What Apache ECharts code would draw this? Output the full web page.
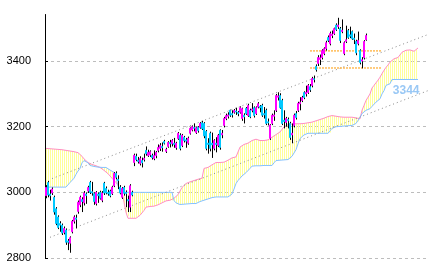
<!DOCTYPE html>
<html><head><meta charset="utf-8">
<script src="https://cdn.jsdelivr.net/npm/echarts@6/dist/echarts.min.js"></script>
<style>html,body{margin:0;padding:0;background:#fff}#c{width:433px;height:271px}</style>
</head><body><div id="c"></div>
<script>
const opens = [
2990,3030,2995,2998,2985,2950,2925,2905,2900,2878,
2885,2852,2845,2880,2912,2922,2942,2962,2978,2968,
2995,3004,3030,3002,2996,2966,2995,3000,2976,3028,
3012,3000,3004,2996,3020,3058,3040,3016,2985,3015,
3000,2978,2955,3000,3091,3110,3098,3088,3097,3100,
3128,3112,3114,3112,3103,3112,3128,3134,3140,3155,
3125,3140,3152,3148,3150,3136,3164,3174,3143,3168,
3160,3150,3180,3190,3198,3182,3198,3198,3212,3210,
3186,3150,3180,3150,3134,3150,3143,3189,3175,3204,
3225,3232,3250,3240,3244,3248,3244,3244,3225,3235,
3256,3234,3250,3250,3258,3240,3260,3262,3265,3240,
3250,3215,3165,3210,3232,3250,3290,3295,3280,3220,
3213,3222,3210,3175,3204,3240,3250,3270,3280,3304,
3300,3304,3322,3326,3346,3384,3393,3405,3411,3423,
3438,3472,3453,3478,3484,3510,3505,3499,3490,3423,
3460,3493,3480,3490,3470,3460,3453,3432,3400,3410,3465];
const closes = [
3015,2992,2990,3010,2940,2905,2893,2900,2876,2890,
2848,2848,2862,2912,2925,2918,2970,2985,2972,2998,
2990,3015,3000,2998,2972,3000,2990,2982,2998,2998,
2998,2996,2990,3016,3058,3046,3036,2998,3012,2997,
2996,2974,3020,2992,3113,3100,3094,3103,3090,3104,
3118,3122,3124,3106,3112,3122,3137,3143,3136,3150,
3131,3152,3148,3158,3146,3150,3180,3134,3174,3158,
3156,3165,3195,3200,3195,3197,3188,3210,3194,3172,
3134,3146,3134,3145,3158,3146,3174,3137,3180,3225,
3234,3236,3235,3236,3250,3245,3240,3258,3255,3230,
3240,3265,3230,3254,3234,3258,3270,3258,3235,3236,
3210,3212,3205,3235,3236,3295,3294,3258,3210,3216,
3225,3218,3167,3180,3235,3228,3271,3275,3289,3289,
3305,3326,3312,3347,3344,3374,3411,3410,3432,3438,
3456,3463,3484,3482,3499,3496,3510,3463,3494,3456,
3465,3472,3476,3468,3466,3425,3463,3396,3404,3460,3478];
const lows = [
2982,2985,2975,2992,2932,2900,2888,2880,2870,2872,
2840,2824,2816,2875,2905,2890,2935,2955,2940,2960,
2965,2998,2995,2990,2962,2960,2968,2978,2970,2992,
2994,2990,2985,2992,3016,3040,3010,2994,2980,2990,
2955,2940,2940,2988,3080,3095,3088,3082,3076,3094,
3112,3108,3108,3100,3098,3104,3122,3126,3124,3146,
3120,3136,3137,3140,3136,3130,3160,3128,3138,3152,
3136,3145,3176,3186,3186,3178,3182,3194,3190,3165,
3128,3118,3125,3105,3128,3122,3138,3130,3165,3198,
3220,3225,3230,3228,3240,3236,3232,3240,3218,3210,
3236,3230,3226,3244,3228,3236,3256,3244,3230,3225,
3205,3204,3160,3205,3218,3245,3280,3255,3205,3195,
3200,3195,3160,3150,3198,3222,3245,3250,3275,3284,
3292,3300,3306,3320,3335,3368,3385,3388,3405,3418,
3432,3458,3448,3470,3480,3492,3498,3455,3485,3418,
3455,3468,3470,3465,3452,3418,3448,3390,3378,3405,3462];
const highs = [
3022,3035,3008,3015,2990,2955,2930,2912,2905,2896,
2890,2858,2866,2916,2930,2932,2975,2990,2985,3004,
3000,3020,3035,3032,3000,3004,3000,3005,3004,3032,
3018,3008,3008,3020,3062,3064,3052,3022,3016,3020,
3006,2990,3025,3005,3118,3118,3108,3110,3106,3118,
3140,3130,3128,3118,3128,3126,3146,3150,3152,3160,
3136,3156,3160,3162,3166,3154,3184,3180,3178,3172,
3166,3170,3198,3204,3210,3200,3202,3214,3218,3214,
3190,3165,3185,3182,3162,3168,3178,3192,3190,3230,
3240,3244,3252,3250,3254,3258,3248,3262,3258,3241,
3260,3270,3255,3272,3262,3262,3275,3266,3270,3260,
3255,3225,3208,3240,3250,3300,3305,3302,3285,3250,
3230,3228,3215,3210,3240,3248,3276,3290,3294,3308,
3325,3330,3330,3352,3356,3390,3418,3420,3436,3442,
3462,3478,3490,3493,3502,3515,3532,3504,3527,3460,
3508,3498,3505,3493,3484,3465,3490,3436,3412,3464,3484];
// leading span lines of the cloud (pink = spanA, blue = spanB)
const spanA = [
3134,3134,3133,3133,3132,3132,3131,3131,3130,3129,
3128,3127,3126,3125,3124,3122,3121,3119,3110,3102,
3097,3091,3088,3085,3083,3081,3079,3076,3072,3067,
3062,3057,3052,3043,3037,3030,3021,3010,3000,2970,
2939,2921,2921,2921,2921,2921,2925,2930,2936,2945,
2955,2956,2957,2957,2958,2958,2962,2965,2968,2971,
2974,2976,2976,2976,2982,2988,2993,2997,3015,3021,
3027,3030,3032,3034,3036,3038,3040,3042,3043,3073,
3074,3076,3080,3084,3088,3091,3091,3091,3092,3092,
3092,3098,3103,3105,3107,3108,3109,3138,3143,3146,
3148,3150,3153,3158,3164,3162,3160,3158,3158,3158,
3158,3160,3164,3168,3172,3176,3180,3184,3192,3200,
3204,3206,3207,3208,3208,3209,3209,3209,3209,3210,
3211,3212,3213,3214,3216,3218,3220,3222,3224,3226,
3229,3231,3234,3234,3233,3232,3231,3230,3230,3229,
3229,3229,3229,3229,3228,3227,3226,3224,3250,3265,
3280,3290,3300,3318,3326,3334,3342,3351,3362,3372,
3381,3388,3397,3402,3407,3409,3411,3412,3427,3430,
3433,3435,3434,3432,3430,3428,3440];
const spanB = [
3016,3016,3016,3016,3016,3016,3016,3016,3016,3016,
3016,3022,3030,3036,3043,3055,3065,3073,3090,3097,
3097,3090,3082,3080,3079,3078,3077,3077,3076,3076,
3076,3072,3068,3064,3061,3045,3021,3000,3000,3000,
3000,3000,3000,3000,3000,3000,3000,3000,3000,3000,
3000,3000,3000,3000,3000,3000,3000,3000,3000,3000,
3000,3000,3000,3000,2975,2968,2963,2963,2964,2964,
2965,2965,2966,2966,2966,2966,2970,2972,2974,2976,
2978,2980,2982,2984,2986,2986,2986,2986,2986,2986,
2986,2986,2986,2995,3010,3027,3036,3043,3050,3055,
3060,3066,3073,3080,3080,3081,3081,3081,3081,3082,
3082,3082,3082,3082,3090,3097,3098,3098,3099,3099,
3100,3100,3100,3110,3120,3130,3148,3164,3170,3175,
3180,3180,3180,3180,3180,3180,3180,3180,3180,3180,
3180,3180,3180,3195,3199,3200,3201,3201,3202,3202,
3203,3203,3204,3204,3206,3210,3214,3228,3240,3245,
3250,3253,3255,3262,3268,3275,3280,3285,3300,3310,
3326,3328,3331,3344,3344,3344,3344,3344,3344,3344,
3344,3344,3344,3344,3344,3344,3344];
const yTicks = [2800, 3000, 3200, 3400];
const trendUpper = [[3, 3042], [191, 3481]];
const trendLower = [[2, 2863], [191, 3310]];
const levelHigh = [[132, 3431], [168, 3431]];
const levelLow = [[132, 3379], [168, 3379]];
const periods = 192;

const categories = Array.from({length: periods}, (_, i) => String(i));
const bodies = opens.map((o, i) => [o, closes[i], Math.min(o, closes[i]), Math.max(o, closes[i])]);
const wicks = lows.map((l, i) => [l, l, l, highs[i]]);
const cloudBase = spanA.map((a, i) => Math.min(a, spanB[i]));
const cloudThick = spanA.map((a, i) => Math.abs(a - spanB[i]));

const hatch = document.createElement('canvas');
hatch.width = 2; hatch.height = 2;
const hg = hatch.getContext('2d');
hg.fillStyle = '#ffff9a'; hg.fillRect(0, 0, 1, 2);

const yBase = {type: 'value', min: 2800, max: 3542, interval: 200};
const chart = echarts.init(document.getElementById('c'), null, {renderer: 'canvas'});
const lastB = spanB.length - 1;
chart.setOption({
  animation: false,
  backgroundColor: '#fff',
  grid: [
    {left: 45, top: 14.5, width: 384, height: 243.5},
    {left: 45.5, top: 14.5, width: 384, height: 243.5}
  ],
  xAxis: [
    {type: 'category', data: categories, show: false, boundaryGap: true, gridIndex: 0},
    {type: 'category', data: categories, show: false, boundaryGap: true, gridIndex: 1}
  ],
  yAxis: [
    Object.assign({}, yBase, {
      gridIndex: 0,
      axisLine: {show: true, lineStyle: {color: '#000', width: 1}},
      axisTick: {show: true, inside: true, length: 3, lineStyle: {color: '#000'}, customValues: yTicks},
      axisLabel: {color: '#000', fontSize: 11, fontFamily: 'Liberation Sans', margin: 14,
                  customValues: yTicks, formatter: v => String(v)},
      splitLine: {show: true, lineStyle: {color: '#bdbdbd', type: [3, 3], width: 1}}
    }),
    Object.assign({}, yBase, {gridIndex: 1, show: false, splitLine: {show: false}})
  ],
  series: [
    {type: 'line', data: cloudBase, stack: 'cloud', symbol: 'none', lineStyle: {opacity: 0}, silent: true, z: 1},
    {type: 'line', data: cloudThick, stack: 'cloud', symbol: 'none', lineStyle: {opacity: 0}, silent: true, z: 1,
     areaStyle: {color: {image: hatch, repeat: 'repeat'}, opacity: 1}},
    {type: 'line', data: spanA, symbol: 'none', lineStyle: {color: '#ff8fc2', width: 1}, z: 2},
    {type: 'line', data: spanB, symbol: 'none', lineStyle: {color: '#86c2ff', width: 1}, z: 2,
     markPoint: {symbol: 'circle', symbolSize: 1, itemStyle: {color: 'rgba(0,0,0,0)'},
       data: [{coord: [categories[lastB], spanB[lastB]], value: spanB[lastB]}],
       label: {show: true, formatter: '{c}', position: [2, 6], align: 'right', verticalAlign: 'top',
         color: '#99c8f5', fontSize: 12, fontWeight: 'bold', fontFamily: 'Liberation Sans'}}},
    {type: 'line', data: trendUpper, symbol: 'none', lineStyle: {color: '#8a8a8a', width: 1, type: [1, 3]}, z: 3},
    {type: 'line', data: trendLower, symbol: 'none', lineStyle: {color: '#8a8a8a', width: 1, type: [1, 3]}, z: 3},
    {type: 'line', data: levelHigh, symbol: 'none', lineStyle: {color: '#ff9900', width: 1, type: [2, 1]}, z: 3},
    {type: 'line', data: levelLow, symbol: 'none', lineStyle: {color: '#ff9900', width: 1, type: [2, 1]}, z: 3},
    {type: 'candlestick', data: wicks, barWidth: 1, xAxisIndex: 1, yAxisIndex: 1, z: 4,
     itemStyle: {color: '#000', color0: '#000', borderColor: '#000', borderColor0: '#000', borderWidth: 1}},
    {type: 'candlestick', data: bodies, barWidth: 1.4, z: 5,
     itemStyle: {color: '#ff00ff', color0: '#00c8ff', borderColor: '#ff00ff', borderColor0: '#00c8ff', borderWidth: 1}}
  ]
});
</script></body></html>
